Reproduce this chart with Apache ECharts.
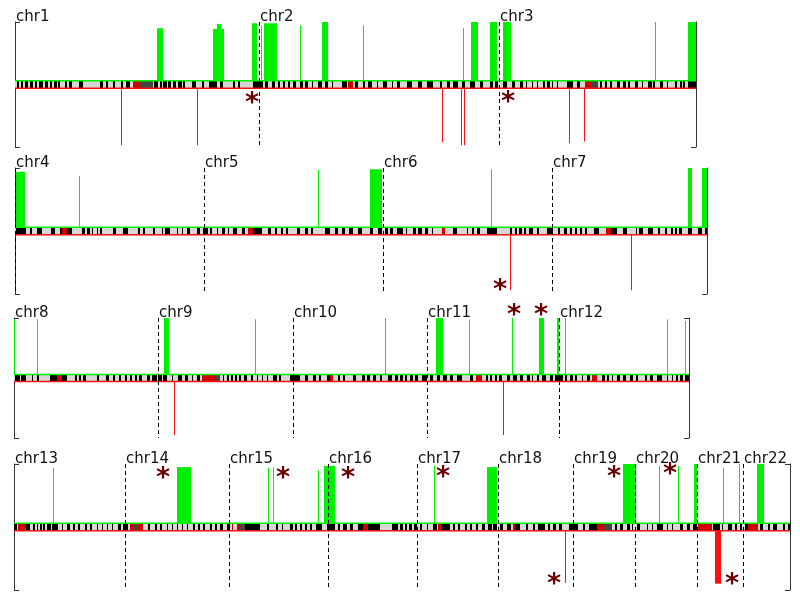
<!DOCTYPE html>
<html>
<head>
<meta charset="utf-8">
<script src="https://cdn.jsdelivr.net/npm/echarts@6/dist/echarts.min.js"></script>
<style>
html, body { margin: 0; padding: 0; background: #fff; }
#chart { width: 800px; height: 596px; }
</style>
</head>
<body>
<div id="chart"></div>
<script>
// chromosomes laid out in 4 rows, lengths in plot units (~1 px each)
var rowChroms = [
  ['chr1', 'chr2', 'chr3'],
  ['chr4', 'chr5', 'chr6', 'chr7'],
  ['chr8', 'chr9', 'chr10', 'chr11', 'chr12'],
  ['chr13', 'chr14', 'chr15', 'chr16', 'chr17', 'chr18', 'chr19', 'chr20', 'chr21', 'chr22']
]
var rowLengths = [
  [244, 240, 197],
  [189, 179, 169, 155],
  [144, 135, 134, 132, 130],
  [111, 104, 99, 89, 81, 75, 62, 62, 46, 47]
]

// gains (green, up) : [start, end, height]  position along the row
var gains1 = [[142,148,0.90],[198,209,0.89],[202,206,0.97],[237,242,0.98],[246,247,0.94],[249,262,0.98],[285,286,0.95],[307,313,1.0],[348,349,0.95],[448,449,0.9],[456,463,1.0],[475,482,1.0],[488,496,1.0],[640,641,1.0],[673,681,1.0]]
var gains2 = [[1,10,0.94],[64,65,0.87],[303,304,0.97],[355,367,0.98],[476,477,0.98],[673,677,1.0],[687,692,1.0]]
var gains3 = [[0,1,0.98],[23,24,0.98],[150,155,1.0],[241,242,0.98],[371,372,1.0],[422,429,1.0],[455,456,0.97],[498,499,1.0],[525,530,1.0],[543,545,1.0],[551,552,1.0],[653,654,0.98],[671,672,0.95]]
var gains4 = [[39,40,0.94],[163,177,0.95],[254,255,0.94],[259,260,0.95],[304,305,0.90],[310,321,0.97],[420,421,0.97],[473,483,0.95],[609,622,1.0],[645,646,0.97],[664,665,0.97],[680,683,1.0],[709,710,0.94],[725,726,1.0],[743,750,1.0]]

// losses (red, down) : [start, end, depth]
var losses1 = [[106,107,0.97],[182,183,0.97],[427,428,0.92],[446,447,0.97],[449,450,0.97],[554,555,0.94],[569,570,0.91]]
var losses2 = [[495,496,0.94],[616,617,0.94]]
var losses3 = [[160,161,0.95],[489,490,0.95]]
var losses4 = [[551,552,0.89],[701,707,0.9]]

// asterisks : [position, y]
var stars1 = [[237,-0.22],[493,-0.2]]
var stars2 = [[485,-0.86]]
var stars3 = [[500,1.13],[527,1.13]]
var stars4 = [[149,0.86],[269,0.86],[334,0.86],[429,0.88],[540,-0.83],[600,0.87],[656,0.92],[718,-0.83]]

// ideogram bands : [start, end]
var bandBlack1 = [[2,4],[6,8],[10,13],[15,18],[20,22],[24,28],[30,33],[35,37],[39,42],[43,45],[50,52],[54,57],[64,68],[85,88],[91,93],[98,100],[106,108],[111,115],[139,143],[145,147],[148,152],[153,156],[158,161],[163,167],[168,170],[177,181],[187,189],[194,202],[205,208],[218,220],[223,225],[238,248],[250,253],[257,260],[263,265],[268,270],[273,275],[278,281],[285,288],[290,293],[297,298],[303,307],[310,313],[317,318],[327,332],[340,343],[348,350],[353,357],[362,363],[368,372],[377,378],[382,385],[392,397],[403,407],[412,418],[425,427],[432,435],[438,443],[447,450],[455,460],[465,468],[475,478],[480,483],[488,492],[497,500],[505,508],[511,512],[517,518],[522,523],[528,530],[532,535],[537,538],[542,543],[552,558],[562,565],[585,587],[590,592],[595,597],[602,605],[608,611],[613,615],[620,623],[627,628],[633,637],[638,640],[645,648],[652,653],[660,662],[665,667],[668,670],[673,681]]
var bandRed1 = [[118,125],[333,338],[570,577]]
var bandDark1 = [[125,138],[577,583]]

var bandBlack2 = [[1,11],[15,17],[22,27],[36,40],[45,47],[52,57],[67,70],[72,75],[77,78],[82,83],[85,87],[98,101],[108,113],[123,125],[128,130],[138,140],[147,148],[150,155],[162,163],[167,168],[172,175],[182,185],[188,193],[195,197],[202,203],[207,210],[213,214],[218,222],[227,230],[238,247],[253,256],[260,262],[266,268],[271,273],[282,285],[290,293],[296,298],[310,315],[320,323],[327,330],[334,338],[343,347],[355,358],[363,367],[370,373],[375,378],[382,388],[391,392],[398,401],[403,407],[410,413],[417,418],[438,442],[452,453],[457,459],[462,465],[472,482],[495,497],[500,502],[504,507],[509,511],[514,518],[522,524],[532,538],[543,545],[549,552],[555,557],[560,562],[565,567],[570,572],[579,584],[596,602],[608,612],[621,622],[624,628],[633,638],[643,645],[650,652],[656,658],[660,662],[664,667],[673,677],[683,687],[690,692]]
var bandRed2 = [[47,52],[233,238],[427,430],[591,596]]
var bandDark2 = []

var bandBlack3 = [[1,6],[7,12],[18,19],[23,25],[36,43],[48,53],[61,63],[65,67],[69,72],[83,85],[92,95],[99,101],[105,107],[111,113],[116,118],[121,123],[125,128],[133,136],[138,143],[144,148],[149,153],[158,159],[164,168],[171,174],[178,179],[183,186],[209,210],[213,215],[217,219],[221,223],[225,227],[230,233],[237,239],[243,244],[248,249],[253,254],[259,263],[265,267],[276,286],[291,294],[299,302],[305,307],[313,316],[324,326],[329,331],[339,342],[348,351],[353,356],[359,362],[366,368],[374,378],[381,384],[386,389],[391,393],[396,399],[401,404],[408,413],[416,419],[423,426],[429,433],[436,439],[443,448],[456,459],[472,474],[476,478],[481,483],[485,488],[493,496],[499,503],[506,509],[513,516],[518,519],[523,525],[528,532],[536,539],[541,549],[551,553],[556,559],[561,563],[568,569],[573,576],[588,591],[593,595],[598,599],[603,606],[609,612],[616,619],[622,624],[631,633],[636,639],[643,648],[653,654],[658,659],[662,664],[666,669],[671,675]]
var bandRed3 = [[43,48],[188,201],[316,319],[462,468],[578,583]]
var bandDark3 = [[201,206]]

var bandBlack4 = [[0,3],[12,16],[19,21],[23,24],[26,28],[29,31],[33,37],[38,44],[48,49],[53,56],[59,61],[64,66],[71,73],[76,78],[83,84],[88,89],[93,94],[98,99],[104,107],[109,114],[134,136],[141,143],[146,148],[153,154],[158,159],[163,164],[168,169],[173,174],[179,181],[184,186],[189,191],[196,198],[201,203],[206,209],[213,216],[231,246],[253,255],[262,264],[268,269],[276,279],[281,283],[286,288],[291,293],[296,298],[302,308],[313,321],[324,326],[329,333],[336,339],[344,349],[354,366],[378,384],[386,389],[391,393],[395,398],[400,403],[406,408],[413,414],[419,423],[428,436],[439,441],[444,446],[451,453],[456,458],[462,464],[468,471],[474,478],[479,483],[486,489],[493,497],[501,506],[512,514],[519,521],[524,531],[534,536],[539,542],[545,548],[555,564],[569,571],[575,583],[601,603],[606,609],[613,616],[618,619],[623,626],[633,634],[638,639],[643,649],[653,654],[658,659],[666,669],[673,676],[679,683],[699,706],[708,709],[714,718],[721,723],[726,728],[731,734],[746,749],[754,756],[759,763],[769,771],[774,776]]
var bandRed4 = [[4,12],[116,119],[124,129],[218,219],[223,226],[349,354],[424,428],[499,501],[583,589],[684,698],[734,744]]
var bandDark4 = [[119,124],[226,231],[589,598]]

var gains = [gains1, gains2, gains3, gains4]
var losses = [losses1, losses2, losses3, losses4]
var stars = [stars1, stars2, stars3, stars4]
var bandBlack = [bandBlack1, bandBlack2, bandBlack3, bandBlack4]
var bandRed = [bandRed1, bandRed2, bandRed3, bandRed4]
var bandDark = [bandDark1, bandDark2, bandDark3, bandDark4]

// layout of the 4 panels (px)
var rowBox = [
  { left: 15, top: 22, height: 125 },
  { left: 15, top: 168, height: 126 },
  { left: 14, top: 318, height: 120 },
  { left: 14, top: 464, height: 126 },
]
var BH = 0.06 // half height of the ideogram band
var GREEN = '#00f000'
var RED = '#ff1010'
var FONT = '"DejaVu Sans", Verdana, sans-serif'

var chart = echarts.init(document.getElementById('chart'))

function rectRender(fill, lowFn, highFn) {
  return function (params, api) {
    var p0 = api.coord([api.value(0), lowFn(api)])
    var p1 = api.coord([api.value(1), highFn(api)])
    var x = Math.round(p0[0])
    var w = Math.max(1, Math.round(p1[0]) - x)
    var y = Math.min(p0[1], p1[1])
    return {
      type: 'rect',
      shape: { x: x, y: y, width: w, height: Math.abs(p1[1] - p0[1]) },
      style: { fill: fill },
    }
  }
}

var grids = []
var xAxes = []
var yAxes = []
var series = []

rowLengths.forEach(function (lens, i) {
  var total = lens.reduce(function (a, b) { return a + b }, 0)
  var starts = []
  var acc = 0
  lens.forEach(function (l) { starts.push(acc); acc += l })

  grids.push({ left: rowBox[i].left, top: rowBox[i].top, width: total, height: rowBox[i].height })
  xAxes.push({ gridIndex: i, type: 'value', min: 0, max: total, show: false })
  var bracket = {
    gridIndex: i,
    type: 'value',
    min: -1,
    max: 1,
    interval: 2,
    axisLine: { show: true, lineStyle: { color: '#333', width: 1 } },
    axisTick: { show: true, inside: true, length: 5, lineStyle: { color: '#333' } },
    axisLabel: { show: false },
    splitLine: { show: false },
  }
  yAxes.push(Object.assign({ position: 'left' }, bracket))
  yAxes.push(Object.assign({ position: 'right' }, bracket))

  var base = { type: 'custom', coordinateSystem: 'cartesian2d', xAxisIndex: i, yAxisIndex: i * 2, clip: false, silent: true, animation: false }

  // band background
  series.push(Object.assign({}, base, {
    z: 1,
    data: [[0, total]],
    renderItem: rectRender('#d6d6d6', function () { return -BH }, function () { return BH }),
  }))
  series.push(Object.assign({}, base, {
    z: 2,
    data: bandBlack[i],
    renderItem: rectRender('#000', function () { return -BH }, function () { return BH }),
  }))
  series.push(Object.assign({}, base, {
    z: 2,
    data: bandRed[i],
    renderItem: rectRender('#d00000', function () { return -BH }, function () { return BH }),
  }))
  series.push(Object.assign({}, base, {
    z: 2,
    data: bandDark[i],
    renderItem: rectRender('#444', function () { return -BH }, function () { return BH }),
  }))
  // green / red edge lines of the band
  series.push(Object.assign({}, base, {
    z: 3,
    data: [[0, total]],
    renderItem: function (params, api) {
      var a = api.coord([0, BH]), b = api.coord([total, BH])
      var c = api.coord([0, -BH]), d = api.coord([total, -BH])
      return {
        type: 'group',
        children: [
          { type: 'line', shape: { x1: a[0], y1: a[1], x2: b[0], y2: b[1] }, style: { stroke: GREEN, lineWidth: 1.5 } },
          { type: 'line', shape: { x1: c[0], y1: c[1], x2: d[0], y2: d[1] }, style: { stroke: RED, lineWidth: 1.5 } },
        ],
      }
    },
  }))
  // gains
  series.push(Object.assign({}, base, {
    z: 4,
    data: gains[i],
    renderItem: rectRender(GREEN, function () { return BH }, function (api) { return api.value(2) }),
  }))
  // losses
  series.push(Object.assign({}, base, {
    z: 4,
    data: losses[i],
    renderItem: rectRender(RED, function () { return -BH }, function (api) { return -api.value(2) }),
  }))
  // chromosome separators
  var seps = starts.filter(function (s) { return s > 0 || i === 1 }).map(function (s) { return [s, 0] })
  series.push(Object.assign({}, base, {
    z: 5,
    data: seps,
    renderItem: function (params, api) {
      var a = api.coord([api.value(0), 1]), b = api.coord([api.value(0), -1])
      var x = Math.round(a[0]) + 0.5
      return { type: 'line', shape: { x1: x, y1: a[1], x2: x, y2: b[1] }, style: { stroke: '#000', lineWidth: 1, lineDash: [4, 3] } }
    },
  }))
  // chromosome names
  var names = rowChroms[i]
  series.push(Object.assign({}, base, {
    z: 6,
    data: starts.map(function (s) { return [s, 1] }),
    renderItem: function (params, api) {
      var p = api.coord([api.value(0), 1])
      return {
        type: 'text',
        x: Math.round(p[0]) + 1,
        y: p[1] + 3,
        style: { text: names[params.dataIndex], fill: '#111', font: '15px ' + FONT, textAlign: 'left', textVerticalAlign: 'bottom' },
      }
    },
  }))
  // asterisks
  series.push(Object.assign({}, base, {
    z: 7,
    data: stars[i],
    renderItem: function (params, api) {
      var p = api.coord([api.value(0), api.value(1)])
      return {
        type: 'text',
        x: p[0],
        y: p[1] + 6,
        style: { text: '*', fill: '#6a0000', font: 'bold 27px ' + FONT, textAlign: 'center', textVerticalAlign: 'middle' },
      }
    },
  }))
})

chart.setOption({
  animation: false,
  grid: grids,
  xAxis: xAxes,
  yAxis: yAxes,
  series: series,
})
</script>
</body>
</html>
